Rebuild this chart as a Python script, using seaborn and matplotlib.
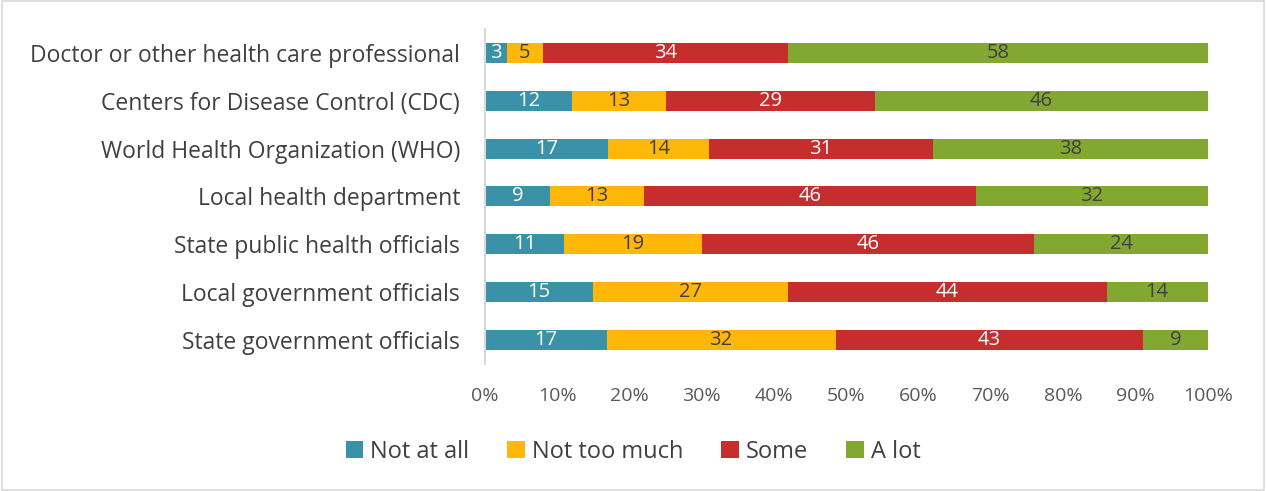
import numpy as np
import pandas as pd
import matplotlib
matplotlib.use("Agg")
import matplotlib.pyplot as plt
import seaborn as sns
from matplotlib.patches import Patch, Rectangle

categories = [
    "Doctor or other health care professional",
    "Centers for Disease Control (CDC)",
    "World Health Organization (WHO)",
    "Local health department",
    "State public health officials",
    "Local government officials",
    "State government officials",
]
not_at_all = [3, 12, 17, 9, 11, 15, 17]
not_too_much = [5, 13, 14, 13, 19, 27, 32]
some = [34, 29, 31, 46, 46, 44, 43]
a_lot = [58, 46, 38, 32, 24, 14, 9]

series_names = ["Not at all", "Not too much", "Some", "A lot"]
series_vals = [not_at_all, not_too_much, some, a_lot]
colors = ["#3A92A8", "#FFB70A", "#C62D2D", "#83A832"]
label_colors = ["white", "#404040", "white", "#404040"]

sns.set_theme(style="white")
plt.rcParams["font.family"] = ["Open Sans", "DejaVu Sans"]

vals = np.array(series_vals, dtype=float)
totals = vals.sum(axis=0)
pct = vals / totals * 100
cum = np.cumsum(pct, axis=0)

fig = plt.figure(figsize=(12.66, 4.91), dpi=100)
fig.patches.append(Rectangle((0.0015, 0.002), 0.997, 0.996, transform=fig.transFigure,
                             fill=False, edgecolor="#D9D9D9", linewidth=1.2))
ax = fig.add_axes([0.383, 0.259, 0.571, 0.682])

for i in range(len(series_names) - 1, -1, -1):
    df = pd.DataFrame({"cat": categories, "x": cum[i]})
    sns.barplot(data=df, x="x", y="cat", orient="h", color=colors[i],
                width=0.42, ax=ax, saturation=1, linewidth=0, order=categories)

for i in range(len(series_names)):
    starts = cum[i] - pct[i]
    for j, cat in enumerate(categories):
        ax.text(starts[j] + pct[i][j] / 2, j, str(series_vals[i][j]),
                ha="center", va="center", color=label_colors[i], fontsize=14.5)

ax.set_xlim(0, 100)
ax.set_ylim(len(categories) - 0.5, -0.5)
ax.set_xticks(np.arange(0, 101, 10))
ax.set_xticklabels([f"{t}%" for t in range(0, 101, 10)], color="#595959", fontsize=14)
ax.tick_params(axis="x", pad=17, length=0)
ax.tick_params(axis="y", length=0, pad=18, labelsize=16.5, labelcolor="#404040")
ax.set_xlabel("")
ax.set_ylabel("")
for s in ["top", "right", "bottom"]:
    ax.spines[s].set_visible(False)
ax.spines["left"].set_color("#D9D9D9")
ax.spines["left"].set_linewidth(1.5)

handles = [Patch(facecolor=c, edgecolor="none") for c in colors]
fig.legend(handles, series_names, loc="center", bbox_to_anchor=(0.5, 0.08), ncol=4,
           frameon=False, fontsize=17, handlelength=0.75, handleheight=0.75,
           handletextpad=0.3, columnspacing=1.6, labelcolor="#404040")

fig.savefig("out.png", dpi=100)
